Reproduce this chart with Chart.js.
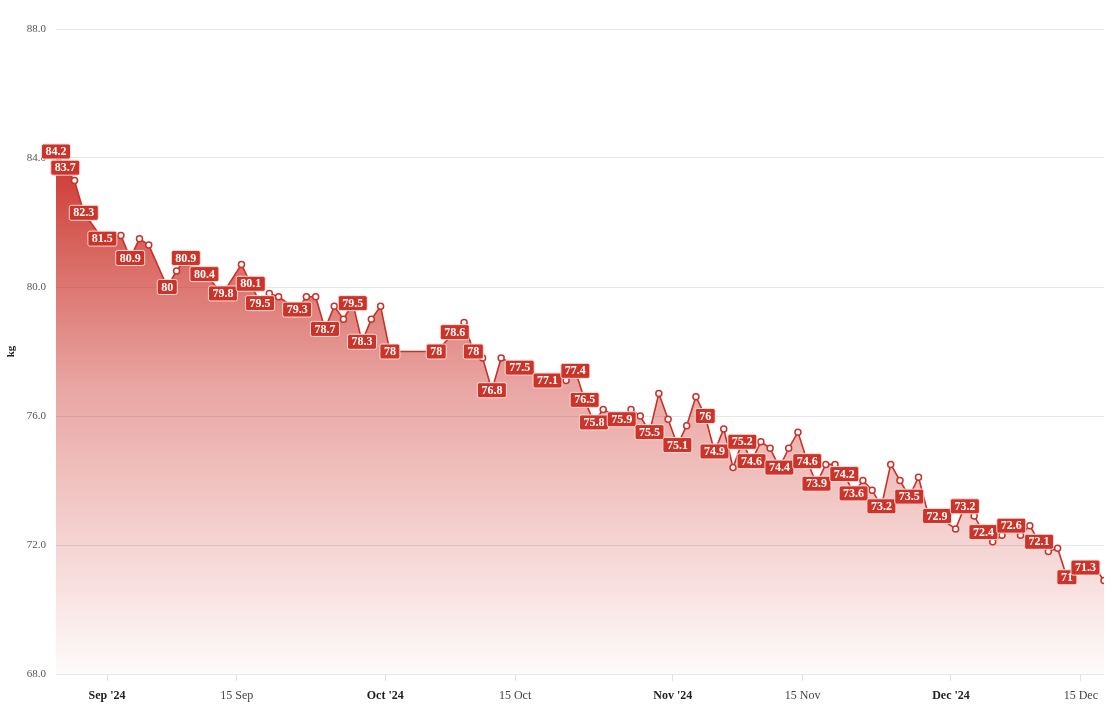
<!DOCTYPE html>
<html>
<head>
<meta charset="utf-8">
<script src="https://cdn.jsdelivr.net/npm/chart.js@4.4.1/dist/chart.umd.min.js"></script>
<style>
  html, body { margin: 0; padding: 0; background: #ffffff; }
  #wrap { width: 1114px; height: 707px; }
</style>
</head>
<body>
<div id="wrap"><canvas id="c" width="1114" height="707"></canvas></div>
<script>
// ---- data ----
const dates = [
  '2024-08-26','2024-08-27','2024-08-28','2024-08-29','2024-08-31',
  '2024-09-02','2024-09-03','2024-09-04','2024-09-05','2024-09-07',
  '2024-09-08','2024-09-09','2024-09-11','2024-09-13','2024-09-15',
  '2024-09-16','2024-09-17','2024-09-18','2024-09-19','2024-09-21',
  '2024-09-22','2024-09-23','2024-09-24','2024-09-25','2024-09-26',
  '2024-09-27','2024-09-28','2024-09-29','2024-09-30','2024-10-01',
  '2024-10-06','2024-10-08','2024-10-09','2024-10-10','2024-10-11',
  '2024-10-12','2024-10-13','2024-10-15','2024-10-18','2024-10-20',
  '2024-10-21','2024-10-22','2024-10-23','2024-10-24','2024-10-26',
  '2024-10-27','2024-10-28','2024-10-29','2024-10-30','2024-10-31',
  '2024-11-01','2024-11-02','2024-11-03','2024-11-04','2024-11-05',
  '2024-11-06','2024-11-07','2024-11-08','2024-11-09','2024-11-10',
  '2024-11-11','2024-11-12','2024-11-13','2024-11-14','2024-11-15',
  '2024-11-16','2024-11-17','2024-11-18','2024-11-19','2024-11-20',
  '2024-11-21','2024-11-22','2024-11-23','2024-11-24','2024-11-25',
  '2024-11-26','2024-11-27','2024-11-28','2024-11-29','2024-12-01',
  '2024-12-02','2024-12-03','2024-12-04','2024-12-05','2024-12-06',
  '2024-12-07','2024-12-08','2024-12-09','2024-12-10','2024-12-11',
  '2024-12-12','2024-12-13','2024-12-15','2024-12-16','2024-12-17'
];
const weights = [
  84.2, 83.7, 83.3, 82.3, 81.5,
  81.6, 80.9, 81.5, 81.3, 80.0,
  80.5, 80.9, 80.4, 79.8, 80.7,
  80.1, 79.5, 79.8, 79.7, 79.3,
  79.7, 79.7, 78.7, 79.4, 79.0,
  79.5, 78.3, 79.0, 79.4, 78.0,
  78.0, 78.6, 78.9, 78.0, 77.8,
  76.8, 77.8, 77.5, 77.1, 77.1,
  77.4, 76.5, 75.8, 76.2, 75.9,
  76.2, 76.0, 75.5, 76.7, 75.9,
  75.1, 75.7, 76.6, 76.0, 74.9,
  75.6, 74.4, 75.2, 74.6, 75.2,
  75.0, 74.4, 75.0, 75.5, 74.6,
  73.9, 74.5, 74.5, 74.2, 73.6,
  74.0, 73.7, 73.2, 74.5, 74.0,
  73.5, 74.1, 73.0, 72.9, 72.5,
  73.2, 72.9, 72.4, 72.1, 72.3,
  72.6, 72.3, 72.6, 72.1, 71.8,
  71.9, 71.0, 71.3, 71.3, 70.9
];
// 1 = value label shown on this point
const showLabel = [
  1,1,0,1,1,
  0,1,0,0,1,
  0,1,1,1,0,
  1,1,0,0,1,
  0,0,1,0,0,
  1,1,0,0,1,
  1,1,0,1,0,
  1,0,1,1,0,
  1,1,1,0,1,
  0,0,1,0,0,
  1,0,0,1,1,
  0,0,1,1,0,
  0,1,0,0,1,
  1,0,0,1,1,
  0,0,1,0,0,
  1,0,0,1,0,
  1,0,1,0,0,
  1,0,0,1,0,
  0,1,1,0,0
];
const tickDates  = ['2024-09-01','2024-09-15','2024-10-01','2024-10-15','2024-11-01','2024-11-15','2024-12-01','2024-12-15'];
const tickLabels = ["Sep '24","15 Sep","Oct '24","15 Oct","Nov '24","15 Nov","Dec '24","15 Dec"];
const tickMajor  = [true,false,true,false,true,false,true,false];
const yTicks = [68, 72, 76, 80, 84, 88];

// ---- helpers ----
const ORIGIN = Date.UTC(2024, 8, 1);
function dayNum(s, hour) {
  const [y, m, d] = s.split('-').map(Number);
  return (Date.UTC(y, m - 1, d) - ORIGIN) / 86400000 + (hour || 0) / 24;
}
const points = dates.map((d, i) => ({ x: dayNum(d, 12), y: weights[i] }));
const tickPos = tickDates.map(d => dayNum(d, 0));

const RED = 'rgb(201, 48, 40)';
const SERIF = "'Liberation Serif', 'DejaVu Serif', serif";

const labelPlugin = {
  id: 'valueLabels',
  afterDatasetsDraw(chart) {
    const ctx = chart.ctx;
    const meta = chart.getDatasetMeta(0);
    ctx.save();
    ctx.font = "bold 12px " + SERIF;
    ctx.textAlign = 'center';
    ctx.textBaseline = 'middle';
    meta.data.forEach((el, i) => {
      if (!showLabel[i]) return;
      const txt = String(weights[i]);
      const w = ctx.measureText(txt).width + 8;
      const h = 15;
      const x = el.x, y = el.y;
      ctx.beginPath();
      if (ctx.roundRect) ctx.roundRect(x - w / 2, y - h / 2, w, h, 2);
      else ctx.rect(x - w / 2, y - h / 2, w, h);
      ctx.fillStyle = 'rgb(204, 52, 42)';
      ctx.fill();
      ctx.lineWidth = 1;
      ctx.strokeStyle = 'rgba(255, 225, 222, 0.95)';
      ctx.stroke();
      ctx.fillStyle = '#ffffff';
      ctx.fillText(txt, x, y + 0.5);
    });
    ctx.restore();
  }
};

new Chart(document.getElementById('c'), {
  type: 'line',
  data: {
    datasets: [{
      data: points,
      borderColor: RED,
      borderWidth: 1.6,
      tension: 0,
      fill: 'start',
      backgroundColor(context) {
        const chart = context.chart;
        const area = chart.chartArea;
        if (!area) return 'rgba(201,48,40,0.5)';
        const g = chart.ctx.createLinearGradient(0, area.top, 0, area.bottom);
        g.addColorStop(0, 'rgba(201, 40, 32, 1)');
        g.addColorStop(0.2, 'rgba(201, 40, 32, 0.92)');
        g.addColorStop(0.55, 'rgba(201, 40, 32, 0.42)');
        g.addColorStop(1, 'rgba(201, 40, 32, 0.02)');
        return g;
      },
      pointRadius: 3,
      pointBorderWidth: 1.5,
      pointBackgroundColor: '#ffffff',
      pointBorderColor: RED,
      pointHoverRadius: 3
    }]
  },
  options: {
    responsive: false,
    animation: false,
    events: [],
    layout: { padding: { top: 29, right: 10, left: 0, bottom: 0 } },
    plugins: {
      legend: { display: false },
      tooltip: { enabled: false },
      title: { display: false }
    },
    scales: {
      x: {
        type: 'linear',
        min: points[0].x,
        max: points[points.length - 1].x,
        afterBuildTicks(scale) {
          scale.ticks = tickPos.map((v, i) => ({ value: v, major: tickMajor[i], label: tickLabels[i] }));
        },
        afterFit(scale) { scale.height = 33; },
        grid: { drawOnChartArea: false, tickLength: 7, color: '#e0e0e0' },
        border: { display: false },
        ticks: {
          autoSkip: false,
          maxRotation: 0,
          padding: 8,
          callback(value, index) { return tickLabels[index]; },
          color(ctx) { return tickMajor[ctx.index] ? '#222222' : '#444444'; },
          font(ctx) {
            return { family: SERIF, size: 12, weight: tickMajor[ctx.index] ? 'bold' : 'normal' };
          }
        }
      },
      y: {
        min: 68,
        max: 88,
        afterBuildTicks(scale) { scale.ticks = yTicks.map(v => ({ value: v })); },
        afterFit(scale) { scale.width = 56; },
        grid: { color: '#e6e6e6', drawTicks: false, lineWidth: 1 },
        border: { display: false },
        title: {
          display: true,
          text: 'kg',
          color: '#222222',
          padding: { top: 5, bottom: 0 },
          font: { family: SERIF, size: 11, weight: 'bold' }
        },
        ticks: {
          padding: 10,
          color: '#555555',
          font: { family: SERIF, size: 11 },
          callback(v) { return Number(v).toFixed(1); }
        }
      }
    }
  },
  plugins: [labelPlugin]
});
</script>
</body>
</html>
